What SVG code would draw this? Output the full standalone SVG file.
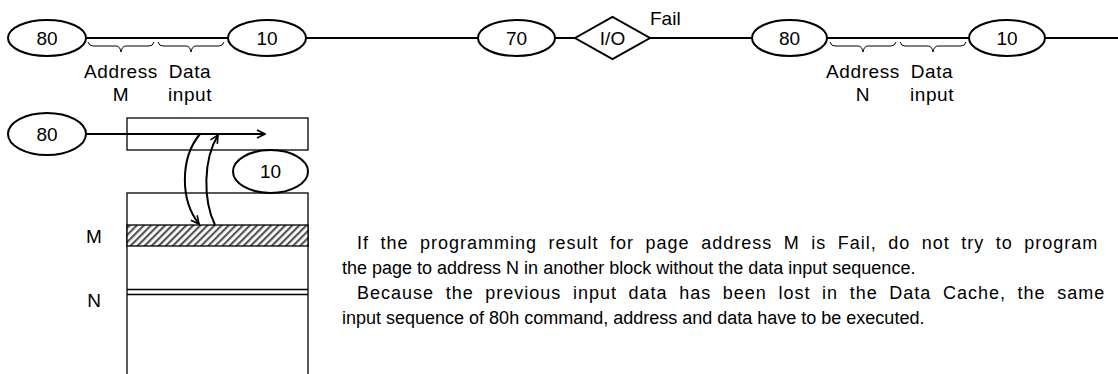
<svg xmlns="http://www.w3.org/2000/svg" width="1118" height="374" viewBox="0 0 1118 374">
  <style>
    .node { fill: #fff; stroke: #000; stroke-width: 2; }
    .t { font-family: "Liberation Sans", Arial, sans-serif; fill: #000; }
    .nt { font-size: 19px; text-anchor: middle; }
    .lbl { font-size: 19px; text-anchor: middle; letter-spacing: 0.6px; }
    .body { font-size: 18px; }
    .wire { fill: none; stroke: #000; stroke-width: 2; }
    .brace { fill: none; stroke: #000; stroke-width: 1; }
    .box { fill: #fff; stroke: #000; stroke-width: 1.3; }
  </style>
  <defs>
    <marker id="open" viewBox="0 0 10 10" refX="9" refY="5" markerWidth="10" markerHeight="10" markerUnits="userSpaceOnUse" orient="auto">
      <path d="M1,1 L9,5 L1,9" fill="none" stroke="#000" stroke-width="1.6"/>
    </marker>
    <pattern id="hatch" width="5" height="5" patternUnits="userSpaceOnUse" patternTransform="rotate(45)">
      <rect width="5" height="5" fill="#fff"/>
      <rect x="0" y="0" width="2.2" height="5" fill="#555"/>
    </pattern>
  </defs>

  <!-- lower-left memory picture -->
  <g id="cache"><rect class="box" x="127" y="118" width="181" height="32"/></g>
  <g id="block">
    <rect class="box" x="127" y="193" width="181" height="185"/>
    <rect x="127" y="225" width="181" height="21" fill="url(#hatch)" stroke="#000" stroke-width="1.3"/>
    <line x1="127" y1="289.5" x2="308" y2="289.5" stroke="#000" stroke-width="1.3"/>
    <line x1="127" y1="294.5" x2="308" y2="294.5" stroke="#000" stroke-width="1.3"/>
    <text class="t" x="94" y="243" font-size="19" text-anchor="middle">M</text>
    <text class="t" x="94" y="307" font-size="19" text-anchor="middle">N</text>
  </g>
  <g id="n80c"><ellipse class="node" cx="47" cy="134" rx="39" ry="21"/><text class="t nt" x="47" y="141">80</text></g>
  <g id="n10c"><ellipse class="node" cx="270.5" cy="171.5" rx="37.5" ry="21.5"/><text class="t nt" x="270.5" y="178">10</text></g>

  <!-- top sequence nodes -->
  <g id="n80a"><ellipse class="node" cx="47" cy="38" rx="39" ry="18"/><text class="t nt" x="47" y="45">80</text></g>
  <g id="n10a"><ellipse class="node" cx="267" cy="38" rx="39" ry="18"/><text class="t nt" x="267" y="45">10</text></g>
  <g id="n70"><ellipse class="node" cx="516.5" cy="38" rx="38.5" ry="18"/><text class="t nt" x="516.5" y="45">70</text></g>
  <g id="io"><polygon class="node" points="575,38 612.5,17 650,38 612.5,59"/><text class="t nt" x="612.5" y="45">I/O</text></g>
  <g id="n80b"><ellipse class="node" cx="789.5" cy="38" rx="37.5" ry="18"/><text class="t nt" x="789.5" y="45">80</text></g>
  <g id="n10b"><ellipse class="node" cx="1007" cy="38" rx="38" ry="18"/><text class="t nt" x="1007" y="45">10</text></g>

  <!-- connectors -->
  <g id="connectors">
    <line class="wire" x1="86" y1="38" x2="228" y2="38"/>
    <line class="wire" x1="306" y1="38" x2="478" y2="38"/>
    <line class="wire" x1="555" y1="38" x2="575" y2="38"/>
    <line class="wire" x1="650" y1="38" x2="752" y2="38"/>
    <line class="wire" x1="827" y1="38" x2="969" y2="38"/>
    <line class="wire" x1="1045" y1="38" x2="1118" y2="38"/>
    <line class="wire" x1="86" y1="134" x2="265" y2="134" marker-end="url(#open)"/>
    <path class="wire" d="M200,134 C180,158 180,200 199,224" marker-end="url(#open)"/>
    <path class="wire" d="M215,225 C203,200 203,160 218,135" marker-end="url(#open)"/>
  </g>

  <!-- braces -->
  <g id="braces">
    <path class="brace" d="M88,42 Q89,46 93,46 L116,46 Q120,46 121,52 Q122,46 126,46 L149,46 Q153,46 154,42"/>
    <path class="brace" d="M158,42 Q159,46 163,46 L186,46 Q190,46 191,52 Q192,46 196,46 L219,46 Q223,46 224,42"/>
    <path class="brace" d="M830,42 Q831,46 835,46 L858,46 Q862,46 863,52 Q864,46 868,46 L891,46 Q895,46 896,42"/>
    <path class="brace" d="M900,42 Q901,46 905,46 L928,46 Q932,46 933,52 Q934,46 938,46 L961,46 Q965,46 966,42"/>
  </g>

  <g id="labels">
    <text class="t" x="650" y="25" font-size="19">Fail</text>
    <text class="t lbl" x="121" y="78">Address</text>
    <text class="t lbl" x="121" y="101">M</text>
    <text class="t lbl" x="190" y="78">Data</text>
    <text class="t lbl" x="190" y="101">input</text>
    <text class="t lbl" x="863" y="78">Address</text>
    <text class="t lbl" x="863" y="101">N</text>
    <text class="t lbl" x="932" y="78">Data</text>
    <text class="t lbl" x="932" y="101">input</text>
  </g>

  <g id="note">
    <text class="t body" x="357" y="249" letter-spacing="1" word-spacing="5.5">If the programming result for page address M is Fail, do not try to program</text>
    <text class="t body" x="342" y="274">the page to address N in another block without the data input sequence.</text>
    <text class="t body" x="357" y="299" letter-spacing="1" word-spacing="5.6">Because the previous input data has been lost in the Data Cache, the same</text>
    <text class="t body" x="342" y="324">input sequence of 80h command, address and data have to be executed.</text>
  </g>
</svg>
